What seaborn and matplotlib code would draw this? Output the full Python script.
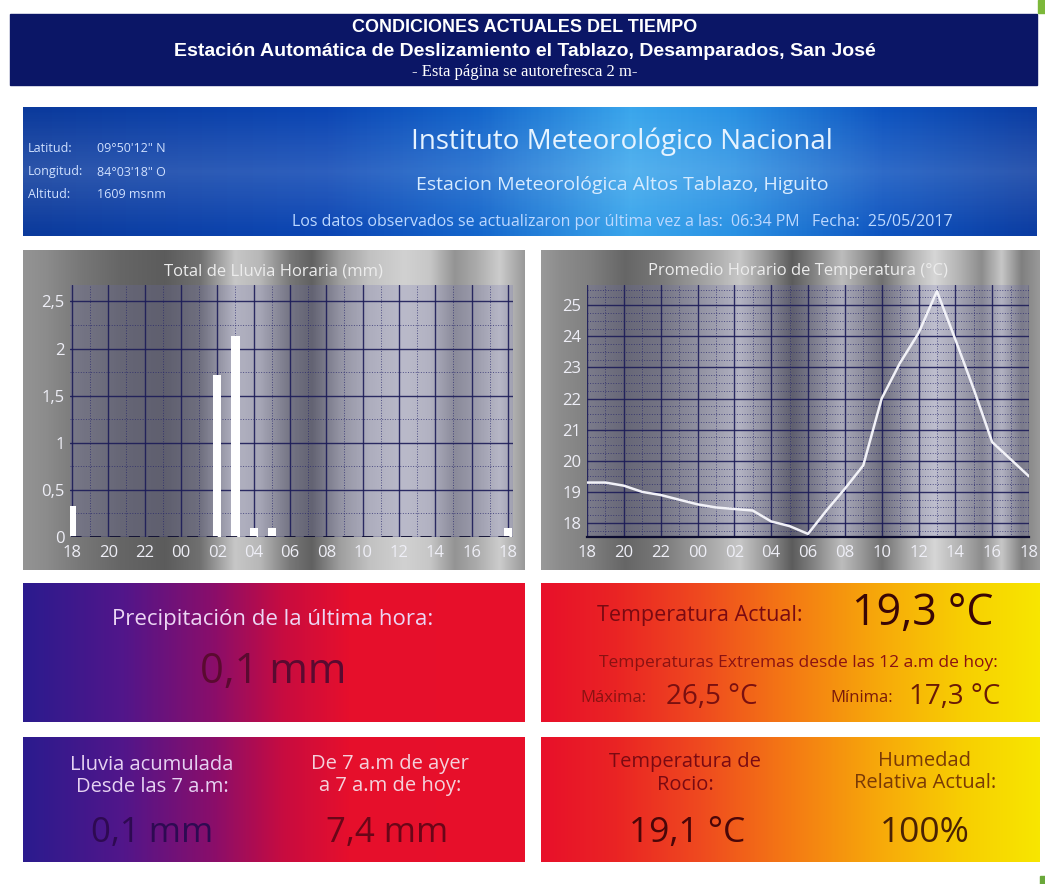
import numpy as np
import matplotlib
matplotlib.use('Agg')
import matplotlib.pyplot as plt
from matplotlib.colors import LinearSegmentedColormap
from matplotlib.patches import Rectangle
from matplotlib.ticker import MultipleLocator
import seaborn as sns

# ---- chart data ----
hours = list(range(25))  # 18:00 yesterday -> 18:00 today
hour_ticks = list(range(0, 25, 2))
hour_labels = ['18', '20', '22', '00', '02', '04', '06', '08', '10', '12', '14', '16', '18']

rain_mm = [0.33, 0, 0, 0, 0, 0, 0, 0, 1.72, 2.13, 0.1, 0.1,
           0, 0, 0, 0, 0, 0, 0, 0, 0, 0, 0, 0, 0.1]
rain_ticks = [0, 0.5, 1, 1.5, 2, 2.5]
rain_tick_labels = ['0', '0,5', '1', '1,5', '2', '2,5']

temp_c = [19.3, 19.3, 19.2, 19.0, 18.9, 18.75, 18.6, 18.5, 18.45, 18.4, 18.05, 17.9,
          17.65, 18.4, 19.1, 19.85, 22.0, 23.15, 24.1, 25.45, 23.9, 22.3, 20.6, 20.05, 19.5]
temp_ticks = [18, 19, 20, 21, 22, 23, 24, 25]

# ---- page layout (pixels) ----
W, H = 1045, 884

sns.set_theme(style='white')
plt.rcParams['font.family'] = ['Open Sans', 'DejaVu Sans']

fig = plt.figure(figsize=(W / 100, H / 100), dpi=100)
fig.patch.set_facecolor('white')
bg = fig.add_axes([0, 0, 1, 1])
bg.axis('off')


def hgrad(x0, y0, x1, y1, colors, pos, z=1):
    cmap = LinearSegmentedColormap.from_list('g', list(zip(pos, colors)))
    img = np.linspace(0, 1, 600)[None, :]
    bg.imshow(img, cmap=cmap, extent=[x0, x1, y1, y0], aspect='auto',
              interpolation='bilinear', zorder=z)


def stripes(x0, y0, x1, y1, xs, vals):
    xx = np.linspace(x0, x1, 600)
    g = np.interp(xx, xs, vals)
    img = np.stack([g, g, g], axis=-1)[None, :, :]
    bg.imshow(np.clip(img, 0, 1), extent=[x0, x1, y1, y0], aspect='auto',
              interpolation='bilinear', zorder=1)


def txt(x, y, s, size, color, ha='center', **kw):
    bg.text(x, y, s, ha=ha, va='center', color=color, fontsize=size, zorder=3, **kw)


# header band
bg.add_patch(Rectangle((10, 14), 1027, 71, color='#0b1666', zorder=1))
txt(525, 28, 'CONDICIONES ACTUALES DEL TIEMPO', 13, 'white',
    fontweight='bold', family='Liberation Sans')
txt(525, 51, 'Estación Automática de Deslizamiento el Tablazo, Desamparados, San José', 14,
    'white', fontweight='bold', family='Liberation Sans')
txt(525, 72, '- Esta página se autorefresca 2 m-', 12, 'white', family='Liberation Serif')
bg.add_patch(Rectangle((1038, 0), 7, 13, color='#7cb83a', zorder=1))
bg.add_patch(Rectangle((1040, 876), 5, 8, color='#6aa83a', zorder=1))

# blue banner
hgrad(23, 107, 1037, 236,
      ['#0b3a9c', '#0c46b4', '#1466cc', '#3aa6ec', '#2a92e4', '#0e54c0', '#0b3ca2'],
      [0, 0.3, 0.45, 0.6, 0.7, 0.85, 1])
yy = np.linspace(0, 1, 60)
glow = np.zeros((60, 1, 4))
glow[:, 0, :3] = 1
glow[:, 0, 3] = 0.14 * (1 - np.abs(2 * yy - 1))
bg.imshow(glow, extent=[23, 1037, 236, 107], aspect='auto', interpolation='bilinear', zorder=2)

txt(622, 142, 'Instituto Meteorológico Nacional', 20, '#e6f3ff')
txt(622, 185, 'Estacion Meteorológica Altos Tablazo, Higuito', 14, '#d6ebff')
txt(622, 222, 'Los datos observados se actualizaron por última vez a las:  06:34 PM   Fecha:  25/05/2017',
    11.5, '#bcd8ff')
for yv, lab, val in [(149, 'Latitud:', "09°50'12\" N"),
                     (172, 'Longitud:', "84°03'18\" O"),
                     (195, 'Altitud:', '1609 msnm')]:
    txt(28, yv, lab, 9, '#cfe0ff', ha='left')
    txt(97, yv, val, 9, '#cfe0ff', ha='left')

# brushed metal chart panels
stripes(23, 250, 525, 570,
        [23, 45, 80, 120, 165, 200, 235, 260, 290, 312, 340, 370, 405, 430, 455, 475, 500, 525],
        [0.58, 0.55, 0.47, 0.4, 0.36, 0.44, 0.78, 0.72, 0.47, 0.38, 0.62, 0.76, 0.82, 0.78, 0.58, 0.66, 0.8, 0.6])
stripes(541, 250, 1040, 570,
        [541, 560, 590, 625, 660, 700, 740, 765, 792, 812, 842, 862, 882, 912, 935, 960, 982, 1002, 1022, 1040],
        [0.6, 0.55, 0.5, 0.4, 0.47, 0.62, 0.78, 0.6, 0.36, 0.5, 0.74, 0.6, 0.44, 0.7, 0.84, 0.7, 0.55, 0.78, 0.5, 0.6])
txt(273, 271, 'Total de Lluvia Horaria (mm)', 12, '#ececec')
txt(798, 271, 'Promedio Horario de Temperatura (°C)', 12, '#ececec')

# value boxes
left_cols = ['#2b1b8e', '#52168a', '#8a0e6a', '#c80c40', '#e60f2c', '#e8102a']
left_pos = [0, 0.2, 0.38, 0.52, 0.65, 1]
right_cols = ['#e8102a', '#ea2424', '#ef4a1f', '#f47a14', '#f7a90a', '#f8cf02', '#f7e600']
right_pos = [0, 0.15, 0.32, 0.5, 0.68, 0.85, 1]
hgrad(23, 583, 525, 722, left_cols, left_pos)
hgrad(541, 583, 1040, 722, right_cols, right_pos)
hgrad(23, 737, 525, 862, left_cols, left_pos)
hgrad(541, 737, 1040, 862, right_cols, right_pos)

txt(273, 620, 'Precipitación de la última hora:', 16, '#ecd6f4')
txt(273, 672, '0,1 mm', 30, '#5a0a30')

txt(700, 615, 'Temperatura Actual:', 15.5, '#7a0a12')
txt(923, 614, '19,3 °C', 31, '#3a0606')
txt(798, 663, 'Temperaturas Extremas desde las 12 a.m de hoy:', 12.5, '#8a1212')
txt(580, 698, 'Máxima:', 12, '#8a1212', ha='left')
txt(712, 697, '26,5 °C', 20, '#7a1010')
txt(830, 698, 'Mínima:', 12, '#7a1a0a', ha='left')
txt(955, 697, '17,3 °C', 20, '#6a1a06')

txt(152, 776, 'Lluvia acumulada\nDesde las 7 a.m:', 14.5, '#e6d2f2', linespacing=1.2)
txt(390, 775, 'De 7 a.m de ayer\na 7 a.m de hoy:', 14.5, '#f4d2dc', linespacing=1.2)
txt(152, 833, '0,1 mm', 25, '#2e0a52')
txt(387, 833, '7,4 mm', 25, '#6a0618')

txt(685, 774, 'Temperatura de\nRocio:', 14.5, '#7a0a12', linespacing=1.2)
txt(925, 772, 'Humedad\nRelativa Actual:', 14.5, '#7a3a06', linespacing=1.2)
txt(687, 833, '19,1 °C', 25.5, '#4a0608')
txt(925, 833, '100%', 25.5, '#4a2204')

bg.set_xlim(0, W)
bg.set_ylim(H, 0)


def style_chart(ax):
    ax.set_facecolor((0.42, 0.42, 0.70, 0.22))
    ax.grid(True, which='major', color='#1c1c58', lw=1.0, alpha=0.9)
    ax.grid(True, which='minor', color='#24246a', lw=0.7, ls=':', alpha=0.7)
    ax.set_axisbelow(True)
    for s in ['top', 'right', 'left']:
        ax.spines[s].set_visible(False)
    ax.spines['bottom'].set_color('#0c0c30')
    ax.spines['bottom'].set_linewidth(1.6)
    ax.tick_params(which='both', length=0, colors='#eeeef6', labelsize=12)
    ax.tick_params(axis='x', pad=6)
    ax.tick_params(axis='y', pad=4)
    ax.set_xlabel('')
    ax.set_ylabel('')


# rain bars
ax1 = fig.add_axes([70 / W, 1 - 537 / H, 443 / W, 252 / H])
sns.barplot(x=hours, y=rain_mm, native_scale=True, width=0.45, color='white',
            saturation=1, errorbar=None, linewidth=0, ax=ax1, zorder=3)
ax1.set_xlim(-0.11, 24.28)
ax1.set_ylim(0, 2.675)
ax1.set_xticks(hour_ticks)
ax1.set_xticklabels(hour_labels)
ax1.set_yticks(rain_ticks)
ax1.set_yticklabels(rain_tick_labels)
ax1.xaxis.set_minor_locator(MultipleLocator(1))
ax1.yaxis.set_minor_locator(MultipleLocator(0.25))
style_chart(ax1)
ax1.spines['bottom'].set_visible(False)
ax1.axhline(0, color='#0c0c30', lw=2, ls=(0, (4, 3)), zorder=4)

# temperature line
ax2 = fig.add_axes([587 / W, 1 - 537 / H, 442 / W, 252 / H])
sns.lineplot(x=hours, y=temp_c, color='#f2f2f8', linewidth=1.8, ax=ax2, zorder=3)
ax2.set_xlim(0, 24)
ax2.set_ylim(17.55, 25.65)
ax2.set_xticks(hour_ticks)
ax2.set_xticklabels(hour_labels)
ax2.set_yticks(temp_ticks)
ax2.xaxis.set_minor_locator(MultipleLocator(1))
ax2.yaxis.set_minor_locator(MultipleLocator(0.25))
style_chart(ax2)

fig.savefig('out.png', dpi=100, facecolor='white')
